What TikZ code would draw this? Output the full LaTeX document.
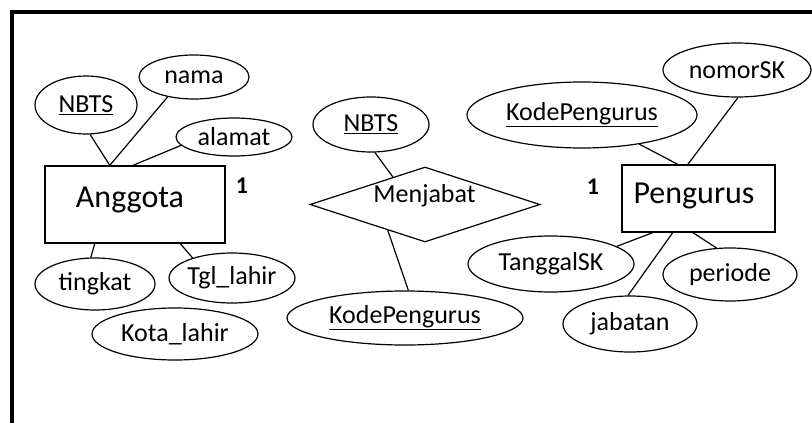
\documentclass[tikz,border=0pt]{standalone}
\usepackage{fontspec}
\setmainfont{Carlito}
\usetikzlibrary{shapes.geometric,calc}
\begin{document}
\begin{tikzpicture}[x=1pt,y=-1pt,
  attr/.style={draw, ellipse, line width=1.2pt, inner sep=0pt, font=\fontsize{26}{30}\selectfont},
  ent/.style={draw, rectangle, line width=1.3pt, inner sep=0pt},
  entlabel/.style={anchor=base, inner sep=0pt, font=\fontsize{32}{38}\selectfont},
  card/.style={anchor=base, inner sep=0pt, font=\fontsize{24}{28}\selectfont\bfseries},
  rel/.style={draw, diamond, line width=1.2pt, inner sep=0pt},
  rellabel/.style={anchor=base, inner sep=0pt, font=\fontsize{26}{30}\selectfont},
  link/.style={line width=1.2pt}]
\useasboundingbox (0,0) rectangle (812,423);
\fill[white] (0,0) rectangle (812,423);
% frame
\draw[line width=4.5pt] (12,423) -- (12,12) -- (812,12);

% entities
\node[ent, minimum width=180pt, minimum height=77pt] (anggota) at (135,204.5) {};
\node[entlabel] (anggotaT) at (130,207) {Anggota};
\node[ent, minimum width=153pt, minimum height=67pt] (pengurus) at (698.5,198.5) {};
\node[entlabel] (pengurusT) at (694,203) {Pengurus};

% cardinalities
\node[card] (cardA) at (242,193) {1};
\node[card] (cardP) at (593,194) {1};

% relationship
\node[rel, minimum width=230pt, minimum height=75pt] (menjabat) at (425,204.5) {};
\node[rellabel] (menjabatT) at (424.5,202) {Menjabat};

% attributes of Anggota
\node[attr, minimum width=102pt, minimum height=58pt] (nbtsA) at (86,105) {\underline{NBTS}};
\node[attr, minimum width=110pt, minimum height=44pt] (nama) at (194,77) {nama};
\node[attr, minimum width=116pt, minimum height=38pt] (alamat) at (234,137) {alamat};
\node[attr, minimum width=120pt, minimum height=52pt] (tingkat) at (95,284) {tingkat};
\node[attr, minimum width=116pt, minimum height=50pt] (tgl) at (232,278) {Tgl\_lahir};
\node[attr, minimum width=166pt, minimum height=52pt] (kota) at (175,334) {Kota\_lahir};

% attributes of Menjabat
\node[attr, minimum width=116pt, minimum height=55pt] (nbtsM) at (371,124.5) {\underline{NBTS}};
\node[attr, minimum width=236pt, minimum height=54pt] (kodeM) at (405,318) {\underline{KodePengurus}};

% attributes of Pengurus
\node[attr, minimum width=230pt, minimum height=66pt] (kodeR) at (582,115) {\underline{KodePengurus}};
\node[attr, minimum width=148pt, minimum height=54pt] (nomorSK) at (737,70) {nomorSK};
\node[attr, minimum width=166pt, minimum height=56pt] (tanggalSK) at (551,264) {TanggalSK};
\node[attr, minimum width=134pt, minimum height=56pt] (jabatan) at (630,324) {jabatan};
\node[attr, minimum width=134pt, minimum height=53pt] (periode) at (730,274.5) {periode};

% connectors
\draw[link] (nbtsA.-82) -- ($(anggota.north west)!0.361!(anggota.north east)$);
\draw[link] (nama.-143) -- ($(anggota.north west)!0.361!(anggota.north east)$);
\draw[link] (alamat.-171) -- ($(anggota.north west)!0.489!(anggota.north east)$);
\draw[link] (tingkat.99) -- ($(anggota.south west)!0.278!(anggota.south east)$);
\draw[link] (tgl.153) -- ($(anggota.south west)!0.75!(anggota.south east)$);
\draw[link] (nbtsM.-82) -- ($(menjabat.north)!0.278!(menjabat.west)$);
\draw[link] ($(menjabat.west)!0.678!(menjabat.south)$) -- (kodeM.83);
\draw[link] (kodeR.-27) -- ($(pengurus.north west)!0.366!(pengurus.north east)$);
\draw[link] (nomorSK.-88) -- ($(pengurus.north west)!0.431!(pengurus.north east)$);
\draw[link] (tanggalSK.15) -- ($(pengurus.south west)!0.203!(pengurus.south east)$);
\draw[link] (jabatan.94) -- ($(pengurus.south west)!0.333!(pengurus.south east)$);
\draw[link] (periode.117) -- ($(pengurus.south west)!0.464!(pengurus.south east)$);
\end{tikzpicture}
\end{document}
